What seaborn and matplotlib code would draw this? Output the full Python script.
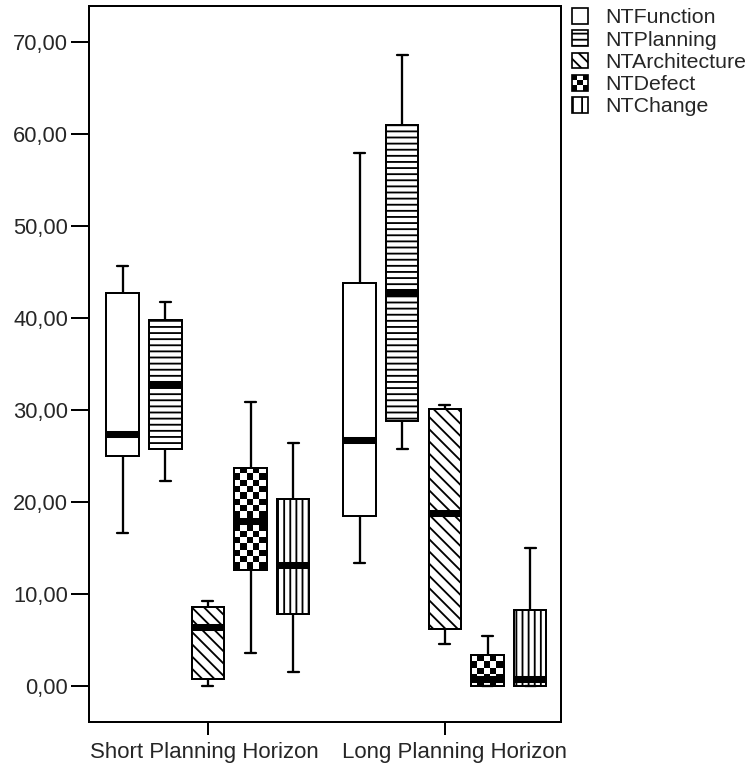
import numpy as np
import pandas as pd
import matplotlib
matplotlib.use("Agg")
import matplotlib.pyplot as plt
import matplotlib.transforms as mtransforms
import seaborn as sns
from matplotlib.ticker import FuncFormatter
from matplotlib.patches import Rectangle, Patch
from matplotlib.legend_handler import HandlerBase

# ---------------- data (five-number summaries) -------------
groups = ["Short Planning Horizon", "Long Planning Horizon"]
series = ["NTFunction", "NTPlanning", "NTArchitecture", "NTDefect", "NTChange"]

# min, Q1, median, Q3, max
ntfunction_short = [16.6, 25.0, 27.4, 42.7, 45.7]
ntfunction_long = [13.3, 18.5, 26.7, 43.85, 58.0]
ntplanning_short = [22.3, 25.8, 32.8, 39.8, 41.7]
ntplanning_long = [25.7, 28.8, 42.8, 61.0, 68.6]
ntarchitecture_short = [0.0, 0.7, 6.4, 8.6, 9.2]
ntarchitecture_long = [4.5, 6.2, 18.8, 30.1, 30.5]
ntdefect_short = [3.6, 12.6, 17.9, 23.7, 30.9]
ntdefect_long = [0.0, 0.0, 0.7, 3.3, 5.4]
ntchange_short = [1.5, 7.8, 13.1, 20.3, 26.4]
ntchange_long = [0.0, 0.0, 0.7, 8.2, 15.0]

y_ticks = [0, 10, 20, 30, 40, 50, 60, 70]

values = {
    ("Short Planning Horizon", "NTFunction"): ntfunction_short,
    ("Long Planning Horizon", "NTFunction"): ntfunction_long,
    ("Short Planning Horizon", "NTPlanning"): ntplanning_short,
    ("Long Planning Horizon", "NTPlanning"): ntplanning_long,
    ("Short Planning Horizon", "NTArchitecture"): ntarchitecture_short,
    ("Long Planning Horizon", "NTArchitecture"): ntarchitecture_long,
    ("Short Planning Horizon", "NTDefect"): ntdefect_short,
    ("Long Planning Horizon", "NTDefect"): ntdefect_long,
    ("Short Planning Horizon", "NTChange"): ntchange_short,
    ("Long Planning Horizon", "NTChange"): ntchange_long,
}
rows = []
for g in groups:
    for s in series:
        for v in values[(g, s)]:
            rows.append({"group": g, "series": s, "value": v})
df = pd.DataFrame(rows)

# ---------------- style ----------------
sns.set_style("ticks")
plt.rcParams["font.family"] = ["Liberation Sans", "DejaVu Sans"]
plt.rcParams["hatch.linewidth"] = 1.2
plt.rcParams["hatch.color"] = "black"

DPI = 110
W, H = 755, 769
fig = plt.figure(figsize=(W / DPI, H / DPI), dpi=DPI)
ax = fig.add_axes([89 / W, 1 - 721.7 / H, (561 - 89) / W, (721.7 - 6) / H])

sns.boxplot(
    data=df, x="group", y="value", hue="series",
    order=groups, hue_order=series,
    palette=["white"] * 5, saturation=1,
    linecolor="black", linewidth=1.3,
    width=0.9, gap=0.24, whis=np.inf,
    legend=False, ax=ax,
    medianprops=dict(linewidth=4.6, solid_capstyle="butt"),
    whiskerprops=dict(linewidth=1.5),
    capprops=dict(linewidth=1.5),
    capwidths=0.046,
)

ax.set_xlim(-0.502, 1.49)
ax.set_ylim(-3.92, 73.96)
ax.set_yticks(y_ticks)
ax.yaxis.set_major_formatter(FuncFormatter(lambda v, p: f"{v:.2f}".replace(".", ",")))
ax.set_xlabel("")
ax.set_ylabel("")
for sp in ax.spines.values():
    sp.set_visible(True)
    sp.set_linewidth(1.3)
    sp.set_color("black")
ax.tick_params(axis="y", labelsize=14.3, length=11.8, width=1.3, pad=2, color="black")
ax.tick_params(axis="x", labelsize=14.6, length=8.5, width=1.3, pad=5, color="black")

# shift x tick labels slightly as in the reference
for lab, dx in zip(ax.get_xticklabels(), [-4, 10]):
    lab.set_transform(lab.get_transform() +
                      mtransforms.ScaledTranslation(dx / DPI, 0, fig.dpi_scale_trans))

# ---------------- fill patterns ----------------
hatches = {"NTFunction": "", "NTPlanning": "---", "NTArchitecture": "\\\\\\",
           "NTDefect": None, "NTChange": "|||"}
boxes = [p for p in ax.patches]
boxes.sort(key=lambda p: p.get_path().get_extents().x0)
cell = 6.3
for i, p in enumerate(boxes):
    s = series[i % 5]
    if hatches[s] is None:
        ext = p.get_path().get_extents()
        (px0, py0), (px1, py1) = ax.transData.transform([[ext.x0, ext.y0], [ext.x1, ext.y1]])
        nx = int(np.ceil((px1 - px0) / cell))
        ny = int(np.ceil((py1 - py0) / cell))
        x_end, _ = ax.transData.inverted().transform([px0 + nx * cell, py1])
        _, y_end = ax.transData.inverted().transform([px0, py1 - ny * cell])
        arr = np.indices((ny, nx)).sum(axis=0) % 2
        p.set_facecolor("none")
        im = ax.imshow(arr, extent=(ext.x0, x_end, y_end, ext.y1), origin="upper",
                       cmap="gray_r", vmin=0, vmax=1, interpolation="nearest",
                       aspect="auto", zorder=p.get_zorder() - 0.01)
        im.set_clip_path(p)
    else:
        p.set_hatch(hatches[s])

ax.set_xlim(-0.502, 1.49)
ax.set_ylim(-3.92, 73.96)


# ---------------- legend ----------------
class CheckerHandler(HandlerBase):
    def create_artists(self, legend, orig_handle, xdescent, ydescent, width, height, fontsize, trans):
        arts = []
        n = 3
        cw, ch = width / n, height / n
        for i in range(n):
            for j in range(n):
                if (i + j) % 2 == 0:
                    arts.append(Rectangle((-xdescent + i * cw, -ydescent + j * ch), cw, ch,
                                          facecolor="black", edgecolor="none", transform=trans))
        arts.append(Rectangle((-xdescent, -ydescent), width, height, facecolor="none",
                              edgecolor="black", lw=1.1, transform=trans))
        return arts


handles = []
for s in series:
    if hatches[s] is None:
        h = Patch(facecolor="white", edgecolor="black", label=s)
    else:
        h = Patch(facecolor="white", edgecolor="black",
                  hatch=hatches[s].replace("|||", "||"), lw=1.1, label=s)
    handles.append(h)
hmap = {handles[3]: CheckerHandler()}
fig.legend(handles=handles, labels=series, handler_map=hmap,
           loc="upper left", bbox_to_anchor=(572 / W, 1 - 8 / H),
           frameon=False, fontsize=14, borderpad=0, borderaxespad=0,
           handlelength=0.75, handleheight=0.75, handletextpad=0.8,
           labelspacing=0.14)

fig.savefig("out.png", dpi=DPI)
